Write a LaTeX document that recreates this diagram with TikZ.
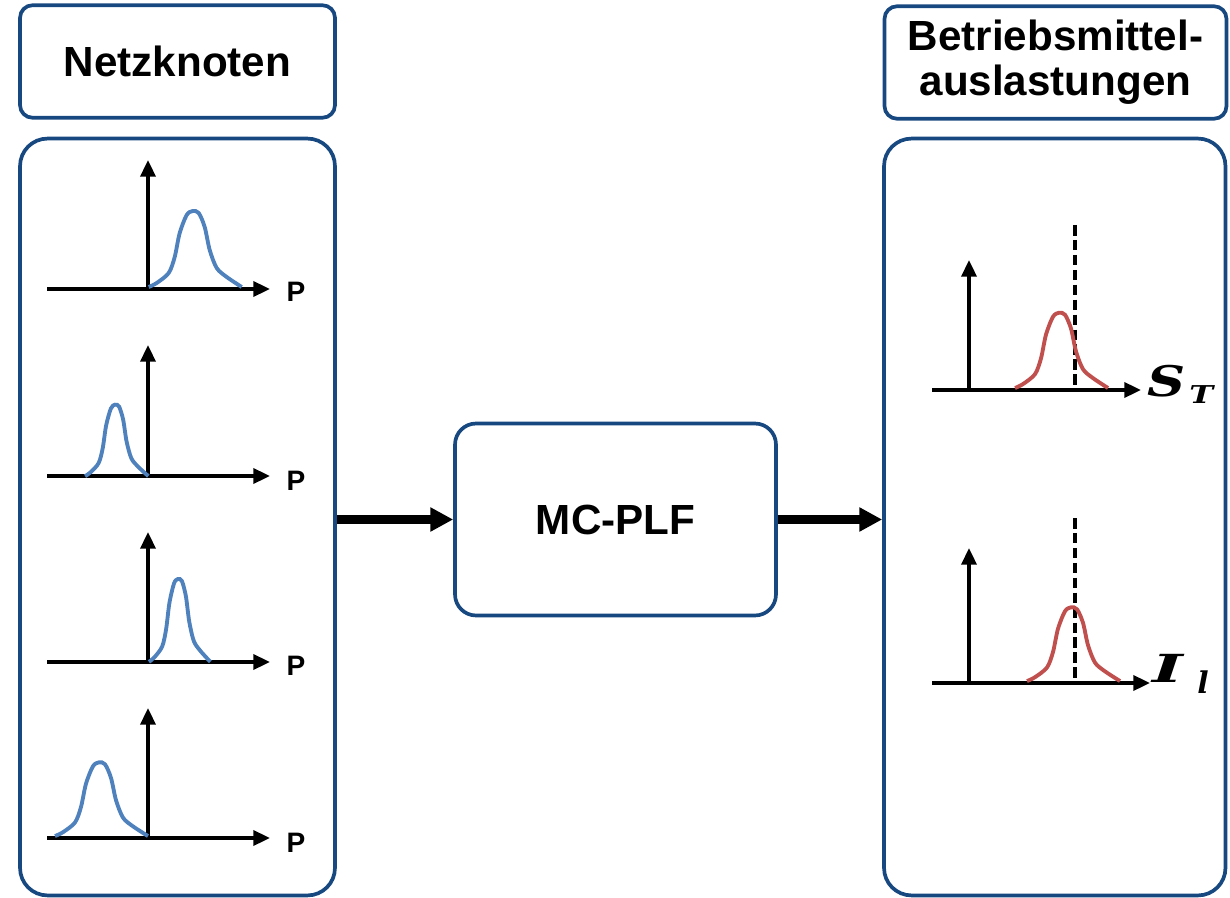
\documentclass[tikz,border=0pt]{standalone}
\usepackage{fontspec}
\setmainfont{Liberation Sans}
\newfontfamily\formel{DejaVu Serif}
\usetikzlibrary{positioning,arrows.meta}

\definecolor{rahmen}{RGB}{24,72,128}
\definecolor{blau}{RGB}{79,129,189}
\definecolor{rot}{RGB}{192,80,77}

% density curve: style, peak x, base y, xscale, yscale
\newcommand{\glocke}[5]{%
  \draw[#1, shift={(#2,#3)}, xscale=#4, yscale=#5]
    plot[smooth] coordinates {(-44,-2) (-36,-6) (-24,-16) (-18,-32) (-13,-56) (-6,-74)
      (0,-78) (6,-76) (12,-62) (17,-39) (24,-21) (34,-12) (49,-2)};}

\begin{document}
\begin{tikzpicture}[
  x=0.02cm, y=-0.02cm,
  kasten/.style={draw=rahmen, line width=2.1pt, inner sep=0pt, align=center,
    font=\fontsize{24}{25.5}\selectfont\bfseries},
  kopf/.style={kasten, rounded corners=0.25cm, minimum height=2.25cm},
  feld/.style={kasten, rounded corners=0.55cm, minimum height=15.14cm},
  achse/.style={line width=2.1pt, -{Triangle[length=9.5pt, width=8.5pt]}},
  grenze/.style={line width=1.8pt, dash pattern=on 6pt off 2.5pt},
  pdfb/.style={blau, line width=2.2pt},
  pdfr/.style={rot, line width=2.2pt},
  plabel/.style={font=\fontsize{16}{16}\selectfont\bfseries},
  glabel/.style={font=\formel\fontsize{24}{24}\selectfont\bfseries\itshape,
    inner sep=0pt, anchor=base west},
  sub/.style={font=\formel\fontsize{14}{14}\selectfont\bfseries\itshape,
    inner sep=0pt, anchor=base west},
  >={Triangle[length=13pt, width=13pt]}
]
  \useasboundingbox (0,0) rectangle (1230,898);

  % Boxes
  \node[kopf, minimum width=6.3cm] (netzkopf) at (177.5,61.5) {Netzknoten};
  \node[feld, minimum width=6.3cm] (netz) at (177.5,517) {};
  \node[kasten, rounded corners=0.42cm, minimum width=6.42cm, minimum height=3.84cm]
    (mc) at (615.5,519.5) {MC-PLF};
  \node[kopf, minimum width=6.84cm] (bmkopf) at (1055.5,62.5) {Betriebsmittel-\\auslastungen};
  \node[feld, minimum width=6.83cm] (bm) at (1054.75,517) {};

  % Arrows
  \draw[->, line width=5pt] (netz.east |- mc.west) -- (mc.west);
  \draw[->, line width=5pt] (mc.east) -- (mc.east -| bm.west);

  % Node 1
  \draw[achse] (47,289) -- (270,289);
  \draw[achse] (148,289) -- (148,160);
  \glocke{pdfb}{192.7}{289}{1}{1}
  \node[plabel] (p1) at (296,292) {P};

  % Node 2
  \draw[achse] (47,476) -- (270,476);
  \draw[achse] (148,476) -- (148,345);
  \glocke{pdfb}{115}{478}{0.68}{0.94}
  \node[plabel] (p2) at (296,481) {P};

  % Node 3
  \draw[achse] (47,662) -- (270,662);
  \draw[achse] (148,662) -- (148,532);
  \glocke{pdfb}{178}{664}{0.66}{1.09}
  \node[plabel] (p3) at (296,666) {P};

  % Node 4
  \draw[achse] (47,838) -- (270,838);
  \draw[achse] (148,838) -- (148,708);
  \glocke{pdfb}{99}{838}{1}{0.97}
  \node[plabel] (p4) at (296,843) {P};

  % Transformer
  \draw[achse] (932,390) -- (1141,390);
  \draw[achse] (969,390) -- (969,260);
  \draw[grenze] (1075,225) -- (1075,390);
  \glocke{pdfr}{1059}{390}{1}{0.99}
  \node[glabel, xscale=1.25] (st) at (1147,397) {S};
  \node[sub, xscale=1.3] (stt) at (1189,403) {T};

  % Line
  \draw[achse] (932,683) -- (1150,683);
  \draw[achse] (969,683) -- (969,548);
  \draw[grenze] (1075,518) -- (1075,683);
  \glocke{pdfr}{1071}{683}{1}{0.97}
  \node[glabel, font=\formel\fontsize{22}{22}\selectfont\bfseries\itshape, xscale=1.7]
    (il) at (1152,682) {I};
  \node[sub, font=\formel\fontsize{17}{17}\selectfont\bfseries\itshape] (ill) at (1197,693) {l};
\end{tikzpicture}
\end{document}
